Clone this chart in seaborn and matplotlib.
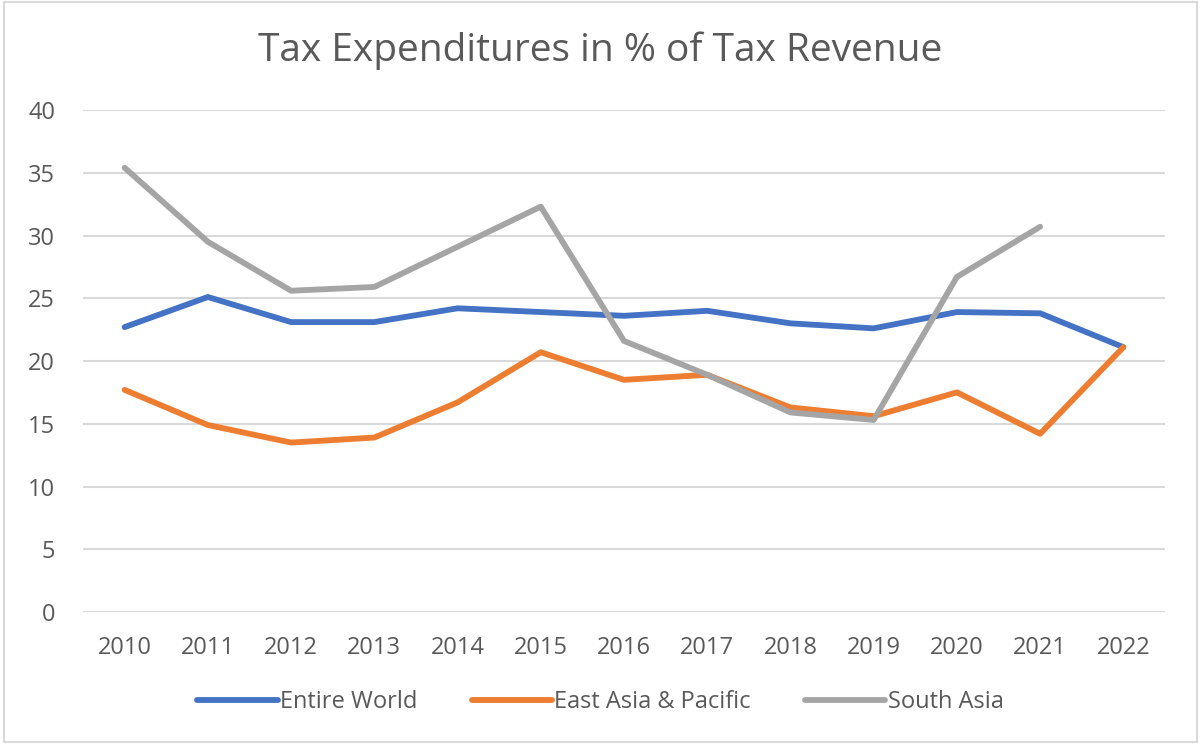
import pandas as pd
import matplotlib
matplotlib.use("Agg")
import matplotlib.pyplot as plt
import seaborn as sns
from matplotlib.patches import Rectangle

# data
years = [2010, 2011, 2012, 2013, 2014, 2015, 2016, 2017, 2018, 2019, 2020, 2021, 2022]
entire_world = [22.7, 25.1, 23.1, 23.1, 24.2, 23.9, 23.6, 24.0, 23.0, 22.6, 23.9, 23.8, 21.1]
east_asia = [17.7, 14.9, 13.5, 13.9, 16.7, 20.7, 18.5, 18.9, 16.3, 15.6, 17.5, 14.2, 21.1]
south_asia = [35.4, 29.5, 25.6, 25.9, 29.1, 32.3, 21.6, 18.9, 15.9, 15.3, 26.7, 30.7, None]

series_names = ["Entire World", "East Asia & Pacific", "South Asia"]
colors = ["#4472C4", "#ED7D31", "#A5A5A5"]

df = pd.DataFrame({"Year": years,
                   series_names[0]: entire_world,
                   series_names[1]: east_asia,
                   series_names[2]: south_asia})
long_df = df.melt(id_vars="Year", var_name="Series", value_name="Value").dropna()

sns.set_theme(style="white")
plt.rcParams["font.family"] = ["Open Sans", "DejaVu Sans"]

fig = plt.figure(figsize=(12.01, 7.44), dpi=100)
ax = fig.add_axes([83 / 1201, 1 - 612 / 744, (1165 - 83) / 1201, (612 - 110) / 744])

sns.lineplot(data=long_df, x="Year", y="Value", hue="Series", hue_order=series_names,
             palette=colors, linewidth=4.2, ax=ax, legend=False, sort=False)

ax.set_xlim(years[0] - 0.5, years[-1] + 0.5)
ax.set_ylim(0, 40)
ax.set_xticks(years)
ax.set_xticklabels([str(y) for y in years])
ax.set_yticks(range(0, 41, 5))
ax.set_xlabel("")
ax.set_ylabel("")
ax.yaxis.grid(True, color="#D9D9D9", linewidth=1.5)
ax.set_axisbelow(True)
for s in ax.spines.values():
    s.set_visible(False)
ax.tick_params(axis="both", length=0, labelsize=17, labelcolor="#595959")
ax.tick_params(axis="x", pad=17)
ax.tick_params(axis="y", pad=20)

fig.text(0.5, 1 - 51 / 744, "Tax Expenditures in % of Tax Revenue",
         ha="center", va="center", fontsize=28, color="#595959")

handles = [plt.Line2D([], [], color=c, linewidth=4.2, solid_capstyle="round") for c in colors]
fig.legend(handles, series_names, loc="center", bbox_to_anchor=(0.5, 1 - 702 / 744),
           ncol=3, frameon=False, fontsize=17, labelcolor="#595959",
           handlelength=3.4, handletextpad=0.1, columnspacing=2.3)

fig.patches.append(Rectangle((0.003, 0.003), 0.994, 0.994, transform=fig.transFigure,
                             fill=False, edgecolor="#D9D9D9", linewidth=1.5))

fig.savefig("out.png", dpi=100)
